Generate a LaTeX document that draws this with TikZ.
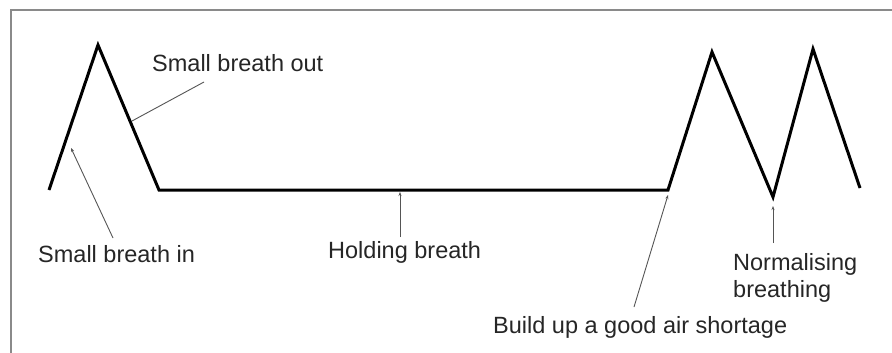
\documentclass[tikz,border=0pt]{standalone}
\usepackage{fontspec}
\setmainfont{Liberation Sans}
\usetikzlibrary{arrows.meta}
\definecolor{txt}{HTML}{262626}
\definecolor{lead}{HTML}{555555}
\definecolor{frm}{HTML}{8A8A8A}
\begin{document}
\begin{tikzpicture}[x=1pt,y=-1pt,
  wave/.style={line width=3pt,black,line join=miter},
  leader/.style={lead,line width=0.9pt,-{Stealth[length=4pt,width=3pt]}},
  lbl/.style={anchor=base west,inner sep=0pt,text=txt,font=\fontsize{23.5}{27}\selectfont,align=left}]
\useasboundingbox (0,0) rectangle (892,353);
\fill[white] (0,0) rectangle (892,353);
\draw[frm,line width=1.6pt] (11,10) rectangle (900,365);
% waveform points
\coordinate (w0) at (49,190);
\coordinate (w1) at (98,45);
\coordinate (w2) at (159,190);
\coordinate (w3) at (668,190);
\coordinate (w4) at (712,52);
\coordinate (w5) at (773,197);
\coordinate (w6) at (813,49);
\coordinate (w7) at (860,188);
\draw[wave] (w0) -- (w1) -- (w2) -- (w3) -- (w4) -- (w5) -- (w6) -- (w7);
% leader ends on the waveform
\coordinate (pIn) at (71,148);
\coordinate (pOut) at (132,121);
\coordinate (pHold) at (400,192);
\coordinate (pBuild) at (668,195);
\coordinate (pNorm) at (773,206);
% labels
\node[lbl] (out) at (152,71) {Small breath out};
\node[lbl] (in) at (38,262) {Small breath in};
\node[lbl] (hold) at (328,258) {Holding breath};
\node[lbl] (build) at (493,333) {Build up a good air shortage};
\node[lbl] (norm) at (733,297) {Normalising\\breathing};
% leaders
\coordinate (sOut) at (204,82);
\coordinate (sIn) at (113,238);
\coordinate (sHold) at (400,237);
\coordinate (sBuild) at (634,307);
\coordinate (sNorm) at (773,243);
\draw[lead,line width=0.9pt] (sOut) -- (pOut);
\draw[leader] (sIn) -- (pIn);
\draw[leader] (sHold) -- (pHold);
\draw[leader] (sBuild) -- (pBuild);
\draw[leader] (sNorm) -- (pNorm);
\end{tikzpicture}
\end{document}
